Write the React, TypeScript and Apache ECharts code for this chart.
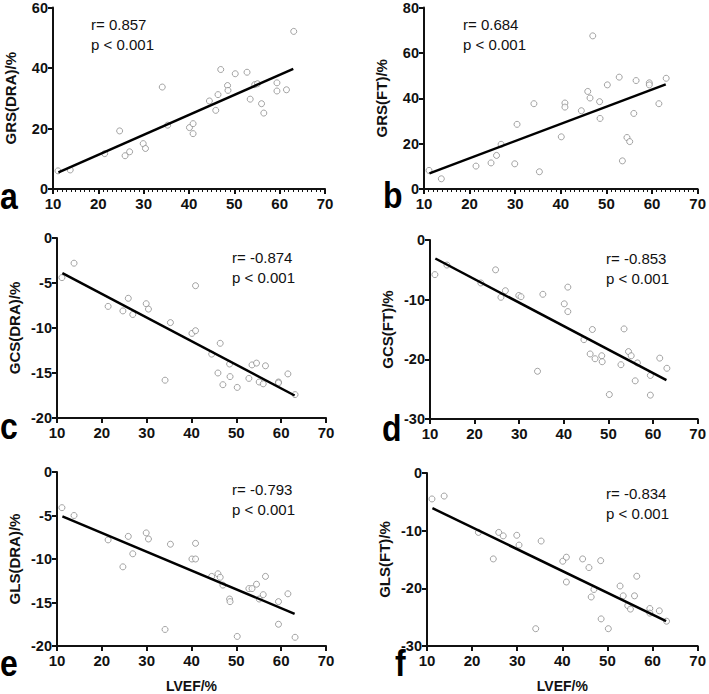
import React, { useEffect, useRef } from 'react';
import * as echarts from 'echarts';

// LVEF (%) for the 30 patients, shared by every panel
const lvef = [11.1, 13.8, 21.4, 24.7, 25.9, 26.9, 29.9, 30.4, 34.1, 35.3, 40.1, 40.9, 40.9, 44.5, 45.9, 46.4, 47.0, 48.5, 48.6, 50.2, 52.8, 53.5, 54.5, 55.1, 56.0, 56.5, 59.4, 59.4, 61.5, 63.1];

const grsDra = [6.0, 6.3, 11.7, 19.2, 11.0, 12.3, 15.0, 13.4, 33.7, 21.1, 20.3, 21.6, 18.3, 29.1, 26.0, 31.2, 39.5, 34.2, 32.6, 38.1, 38.6, 29.7, 34.5, 34.8, 28.2, 25.1, 35.1, 32.4, 32.8, 52.1];
const grsFt = [8.2, 4.5, 10.1, 11.5, 14.8, 19.7, 11.1, 28.5, 37.6, 7.6, 23.0, 37.9, 36.1, 34.5, 43.0, 40.1, 67.5, 38.5, 31.1, 45.9, 49.3, 12.4, 22.7, 20.9, 33.3, 47.8, 46.8, 45.9, 37.6, 48.8];
const gcsDra = [-4.4, -2.8, -7.6, -8.1, -6.7, -8.5, -7.3, -7.9, -15.8, -9.4, -10.6, -10.3, -5.3, -12.9, -15.0, -11.7, -16.3, -14.0, -15.4, -16.6, -15.6, -14.1, -13.9, -16.0, -16.2, -14.2, -16.0, -16.1, -15.1, -17.4];
const gcsFt = [-5.8, -4.2, -7.2, -5.0, -9.6, -8.5, -9.3, -9.5, -22.0, -9.1, -10.7, -12.0, -7.9, -16.7, -19.1, -15.0, -19.9, -19.4, -20.4, -25.9, -20.9, -14.9, -18.7, -19.4, -23.6, -20.6, -22.7, -26.0, -19.8, -21.5];
const glsDra = [-4.1, -5.0, -7.8, -10.9, -7.4, -9.4, -7.0, -7.7, -18.1, -8.3, -10.0, -10.0, -8.2, -12.0, -11.7, -12.1, -13.0, -14.6, -14.9, -18.9, -13.4, -13.4, -12.9, -14.6, -14.1, -12.0, -14.9, -17.5, -14.0, -19.0];
const glsFt = [-4.5, -4.0, -10.3, -14.9, -10.3, -10.9, -10.8, -12.5, -27.0, -11.8, -15.3, -14.6, -18.9, -14.9, -16.4, -21.5, -20.2, -15.2, -25.3, -27.0, -19.6, -21.3, -23.0, -23.6, -21.3, -17.9, -23.5, -24.3, -23.9, -25.7];

// regression line end points
const fitGrsDra = [[11.2, 5.5], [63.0, 39.7]];
const fitGrsFt = [[11.2, 6.9], [63.0, 46.1]];
const fitGcsDra = [[11.2, -3.9], [63.0, -17.5]];
const fitGcsFt = [[11.2, -3.1], [63.0, -23.5]];
const fitGlsDra = [[11.2, -5.1], [63.0, -16.3]];
const fitGlsFt = [[11.2, -6.1], [63.0, -25.7]];

const yNames = ['GRS(DRA)/%', 'GRS(FT)/%', 'GCS(DRA)/%', 'GCS(FT)/%', 'GLS(DRA)/%', 'GLS(FT)/%'];
const rTexts = ['r= 0.857', 'r= 0.684', 'r= -0.874', 'r= -0.853', 'r= -0.793', 'r= -0.834'];
const pText = 'p < 0.001';
const letters = ['a', 'b', 'c', 'd', 'e', 'f'];
const yRanges = [[0, 60, 20], [0, 80, 20], [-20, 0, 5], [-30, 0, 10], [-20, 0, 5], [-30, 0, 10]];
const xTicks = [10, 70, 10];

const FONT = '"Liberation Sans", Arial, Helvetica, sans-serif';

const ScatterPanels: React.FC = () => {
  const chartRef = useRef<HTMLDivElement>(null);

  useEffect(() => {
    if (!chartRef.current) return;
    const chart = echarts.init(chartRef.current, undefined, { renderer: 'svg' });

    const ySets = [grsDra, grsFt, gcsDra, gcsFt, glsDra, glsFt];
    const fits = [fitGrsDra, fitGrsFt, fitGcsDra, fitGcsFt, fitGlsDra, fitGlsFt];

    const grids = [
      { left: 53, top: 7, width: 272, height: 182 },
      { left: 424, top: 7, width: 274, height: 182 },
      { left: 57, top: 238, width: 269, height: 180 },
      { left: 430, top: 240, width: 270, height: 179 },
      { left: 57, top: 472, width: 269, height: 180 },
      { left: 427, top: 473, width: 273, height: 179 }
    ];

    const axisLine = { lineStyle: { color: '#111', width: 2 } };
    const labelStyle = { color: '#111', fontFamily: FONT, fontWeight: 'bold', fontSize: 15 };

    const xAxis = grids.map((_, i) => ({
      type: 'value',
      gridIndex: i,
      min: xTicks[0],
      max: xTicks[1],
      interval: xTicks[2],
      axisLine: { show: true, onZero: false, ...axisLine },
      axisTick: { show: true, length: 5, lineStyle: { color: '#111', width: 2 } },
      minorTick: { show: i < 2, splitNumber: 10, length: 3, lineStyle: { color: '#111', width: 1 } },
      axisLabel: { ...labelStyle, margin: 7 },
      splitLine: { show: false },
      name: i >= 4 ? 'LVEF/%' : '',
      nameLocation: 'middle',
      nameGap: 33,
      nameTextStyle: { color: '#111', fontFamily: FONT, fontWeight: 'bold', fontSize: 14 }
    }));

    const yAxis = grids.map((_, i) => ({
      type: 'value',
      gridIndex: i,
      min: yRanges[i][0],
      max: yRanges[i][1],
      interval: yRanges[i][2],
      axisLine: { show: true, ...axisLine },
      axisTick: { show: true, length: 5, lineStyle: { color: '#111', width: 2 } },
      axisLabel: { ...labelStyle, fontSize: 14.5, margin: 5 },
      splitLine: { show: false },
      name: yNames[i],
      nameLocation: 'middle',
      nameRotate: 90,
      nameGap: 35,
      nameTextStyle: { color: '#111', fontFamily: FONT, fontWeight: 'bold', fontSize: 15 }
    }));

    const series: any[] = [];
    ySets.forEach((ys, i) => {
      series.push({
        type: 'scatter',
        xAxisIndex: i,
        yAxisIndex: i,
        symbol: 'circle',
        symbolSize: 6,
        itemStyle: { color: '#fff', borderColor: '#8c8c8c', borderWidth: 1 },
        data: lvef.map((x, k) => [x, ys[k]]),
        z: 2
      });
      series.push({
        type: 'line',
        xAxisIndex: i,
        yAxisIndex: i,
        symbol: 'none',
        lineStyle: { color: '#000', width: 2.5 },
        data: fits[i],
        z: 3
      });
    });

    const annotPos = [
      [91, 23], [463, 23], [232, 256], [606, 257], [232, 488], [606, 492]
    ];
    // left edge and bottom of the panel letters
    const letterPos = [
      [0, 215], [383, 214], [0, 445], [382, 447], [0, 682], [395, 682]
    ];

    const graphic: any[] = [];
    annotPos.forEach((p, i) => {
      graphic.push({
        type: 'text',
        left: p[0],
        top: p[1] - 9,
        style: {
          text: rTexts[i] + '\n' + pText,
          fill: '#111',
          font: `15px ${FONT}`,
          lineHeight: 20
        }
      });
    });
    letterPos.forEach((p, i) => {
      graphic.push({
        type: 'text',
        x: p[0],
        y: p[1],
        scaleY: 1.15,
        style: {
          text: letters[i],
          fill: '#000',
          font: `bold 32px ${FONT}`,
          textVerticalAlign: 'bottom'
        }
      });
    });

    chart.setOption({
      animation: false,
      backgroundColor: '#fff',
      grid: grids,
      xAxis,
      yAxis,
      series,
      graphic
    });

    const handleResize = () => chart.resize();
    window.addEventListener('resize', handleResize);
    return () => {
      window.removeEventListener('resize', handleResize);
      chart.dispose();
    };
  }, []);

  return (
    <div
      ref={chartRef}
      style={{ position: 'absolute', left: 0, top: 0, width: 709, height: 694 }}
    />
  );
};

export default function App() {
  return <ScatterPanels />;
}
